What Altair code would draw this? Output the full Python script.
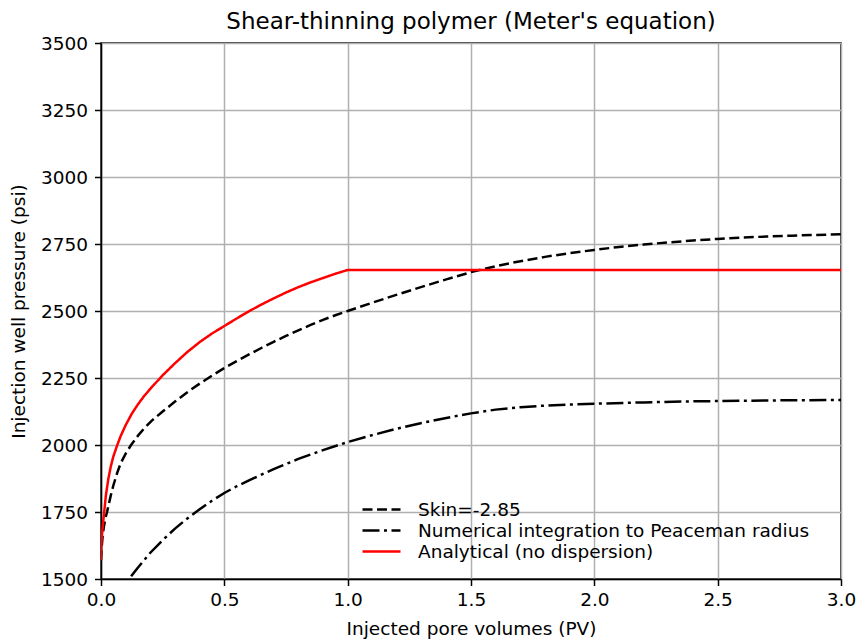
import altair as alt
import pandas as pd

# Skin = -2.85 (dashed)
skin_x = [0.0, 0.003, 0.007, 0.012, 0.018, 0.025, 0.03, 0.04, 0.05, 0.066, 0.08, 0.1, 0.122,
          0.15, 0.175, 0.205, 0.25, 0.3, 0.35, 0.4, 0.45, 0.5, 0.55, 0.6, 0.65, 0.7, 0.75, 0.8,
          0.85, 0.9, 0.95, 1.0, 1.1, 1.2, 1.3, 1.4, 1.5, 1.6, 1.7, 1.8, 1.9, 2.0, 2.1, 2.2,
          2.3, 2.4, 2.5, 2.6, 2.7, 2.8, 2.9, 3.0]
skin_y = [1570, 1620, 1665, 1697, 1727, 1752, 1773, 1813, 1849, 1897, 1932, 1968, 2000,
          2035, 2062, 2090, 2125, 2162, 2197, 2229, 2259, 2287, 2313, 2338, 2362, 2385, 2407, 2428,
          2448, 2467, 2484, 2500, 2531, 2561, 2590, 2618, 2645, 2667, 2686, 2702, 2716, 2728, 2739, 2748,
          2756, 2763, 2769, 2774, 2778, 2781, 2784, 2786]

# Numerical integration to Peaceman radius (dash-dot)
num_x = [0.05, 0.08, 0.1, 0.113, 0.15, 0.2, 0.25, 0.3, 0.35, 0.4, 0.45, 0.5, 0.55, 0.6, 0.7, 0.8,
         0.9, 1.0, 1.1, 1.2, 1.3, 1.4, 1.5, 1.6, 1.7, 1.8, 1.9, 2.0, 2.2, 2.4, 2.6, 2.8, 3.0]
num_y = [1425, 1462, 1485, 1500, 1543, 1598, 1645, 1688, 1726, 1760, 1792, 1821, 1846, 1868, 1910, 1948,
         1981, 2011, 2037, 2061, 2082, 2101, 2118, 2132, 2141, 2147, 2151, 2154, 2159, 2163, 2165, 2167, 2168]

# Analytical (no dispersion) (red)
ana_x = [0.0, 0.002, 0.005, 0.01, 0.013, 0.02, 0.03, 0.04, 0.05, 0.066, 0.08, 0.1, 0.125,
         0.15, 0.175, 0.205, 0.25, 0.3, 0.35, 0.4, 0.45, 0.5, 0.55, 0.6, 0.65, 0.7, 0.75, 0.8,
         0.85, 0.9, 0.95, 1.0, 3.0]
ana_y = [1570, 1634, 1676, 1724, 1750, 1813, 1875, 1921, 1957, 2000, 2034, 2074, 2117,
         2152, 2183, 2215, 2260, 2305, 2347, 2384, 2416, 2444, 2472, 2499, 2524, 2547, 2569, 2589,
         2607, 2623, 2639, 2653, 2653]

names = ["Skin=-2.85", "Numerical integration to Peaceman radius", "Analytical (no dispersion)"]
colors = ["#000000", "#000000", "#ff0000"]
dashes = [[10, 4.5], [17, 4.5, 3, 4.5], [1, 0]]

x_ticks = [0.0, 0.5, 1.0, 1.5, 2.0, 2.5, 3.0]
y_ticks = [1500, 1750, 2000, 2250, 2500, 2750, 3000, 3250, 3500]

rows = []
for i, (xs, ys) in enumerate([(skin_x, skin_y), (num_x, num_y), (ana_x, ana_y)]):
    for j, (a, b) in enumerate(zip(xs, ys)):
        rows.append({"series": names[i], "x": a, "y": b, "order": j})
df = pd.DataFrame(rows)

FONT = "DejaVu Sans"

legend = alt.Legend(title=None, orient="none", legendX=260, legendY=455,
                    symbolType="M-1,0H2.8", symbolSize=400, symbolStrokeWidth=2.5,
                    labelFontSize=18.5, labelFont=FONT, labelColor="#000",
                    rowPadding=0, labelOffset=34, labelLimit=600)

chart = alt.Chart(df).mark_line(clip=True, strokeWidth=2.5, interpolate="linear").encode(
    x=alt.X("x:Q", scale=alt.Scale(domain=[0, 3], nice=False),
            axis=alt.Axis(title="Injected pore volumes (PV)", values=x_ticks, format=".1f")),
    y=alt.Y("y:Q", scale=alt.Scale(domain=[1500, 3500], nice=False, zero=False),
            axis=alt.Axis(title="Injection well pressure (psi)", values=y_ticks, format="d")),
    color=alt.Color("series:N", scale=alt.Scale(domain=names, range=colors), sort=names, legend=legend),
    strokeDash=alt.StrokeDash("series:N", scale=alt.Scale(domain=names, range=dashes), sort=names,
                              legend=legend),
    order="order:Q",
).properties(
    width=740, height=536,
    title=alt.TitleParams("Shear-thinning polymer (Meter's equation)", fontSize=23, font=FONT,
                          fontWeight="normal", color="#000", anchor="middle", offset=0),
    autosize=alt.AutoSizeParams(type="none"),
    padding={"left": 101, "top": 43, "right": 15, "bottom": 60},
).configure_view(
    stroke="#000", strokeWidth=1.5
).configure_axis(
    grid=True, gridColor="#b0b0b0", gridWidth=1.5,
    domainColor="#000", domainWidth=1.5,
    tickColor="#000", tickWidth=1.5, tickSize=6.5,
    labelFont=FONT, labelFontSize=18.5, labelColor="#000",
    titleFont=FONT, titleFontSize=18.5, titleColor="#000", titleFontWeight="normal",
).configure_axisX(labelPadding=5, titlePadding=10, labelFlush=False
).configure_axisY(labelPadding=7, titlePadding=12, labelFlush=False)

chart.save("out.html", embed_options={"renderer": "svg", "actions": False})
